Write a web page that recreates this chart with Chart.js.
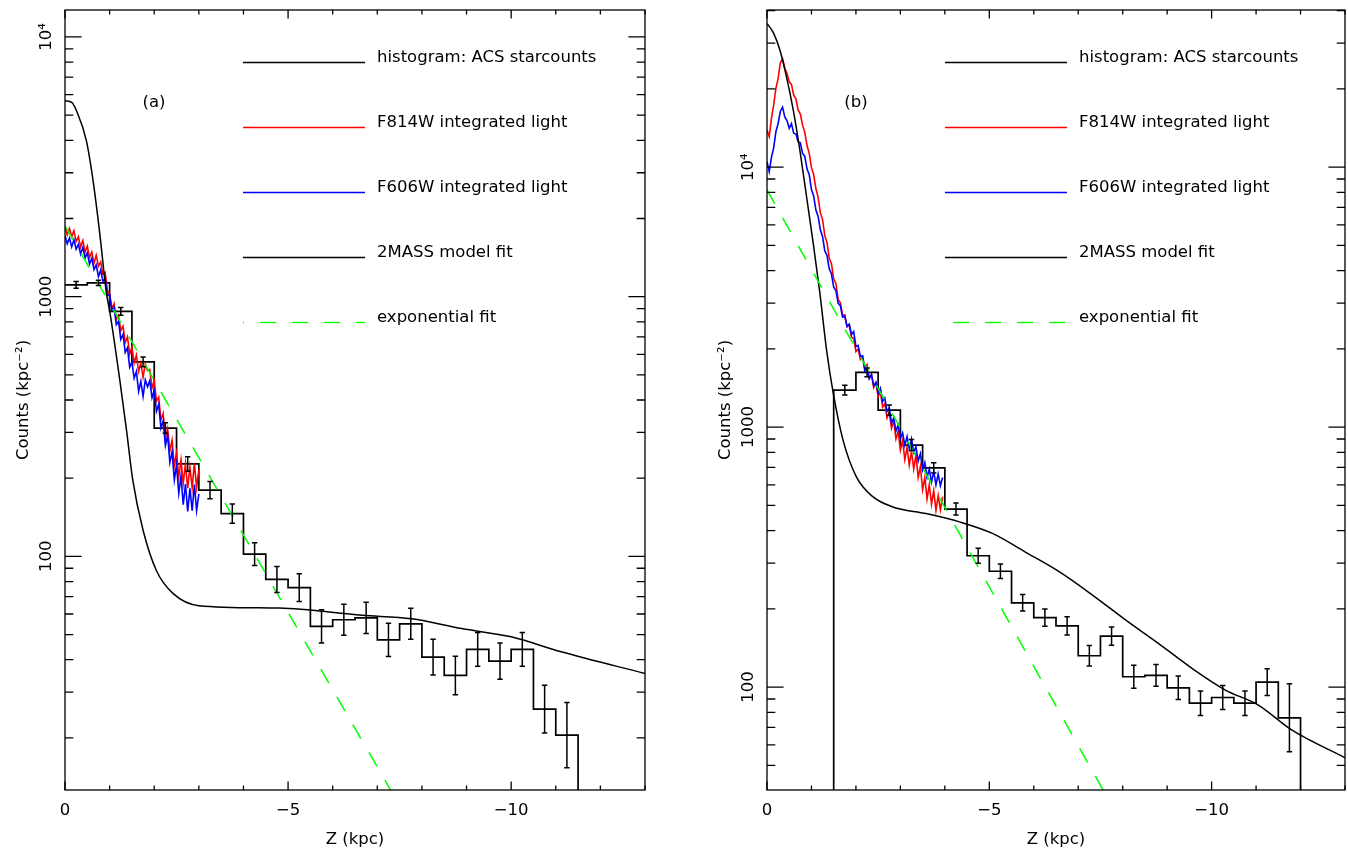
<!DOCTYPE html>
<html lang="en">
<head>
<meta charset="utf-8">
<title>Vertical star-count profiles</title>
<script src="https://cdn.jsdelivr.net/npm/chart.js@4.4.1/dist/chart.umd.min.js"></script>
<style>
  html, body { margin: 0; padding: 0; background: #ffffff; overflow: hidden; }
  .panel { position: absolute; top: 0; }
  #chartA { left: 0; }
  #chartB { left: 674px; }
</style>
</head>
<body>
<canvas id="chartA" class="panel" width="674" height="850"></canvas>
<canvas id="chartB" class="panel" width="674" height="850"></canvas>
<script>
// shared axis ticks and labels
const xTicks = [0, -1, -2, -3, -4, -5, -6, -7, -8, -9, -10, -11, -12, -13];
const xTickLabels = { '0': '0', '-5': '\u22125', '-10': '\u221210' };
const yTickLabels = { '100': '100', '1000': '1000', '10000': '10\u2074' };
const legendText = ['histogram: ACS starcounts', 'F814W integrated light', 'F606W integrated light', '2MASS model fit', 'exponential fit'];

// ---- panel (a) ----
const yRangeA = [12.6, 12700];
const yTicksA = [20, 30, 40, 50, 60, 70, 80, 90, 100, 200, 300, 400, 500, 600, 700, 800, 900,
  1000, 2000, 3000, 4000, 5000, 6000, 7000, 8000, 9000, 10000];
const histEdgesA = [0, -0.5, -1, -1.5, -2, -2.5, -3, -3.5, -4, -4.5, -5, -5.5, -6, -6.5, -7, -7.5,
  -8, -8.5, -9, -9.5, -10, -10.5, -11, -11.5];
const histCountsA = [1110, 1130, 877, 561, 312, 227, 180, 146, 102, 81.5, 75.8, 53.8, 57, 58, 47.7,
  55, 40.9, 34.8, 43.8, 39.5, 43.8, 25.8, 20.5];
const histErrA = [0.013, 0.010, 0.015, 0.019, 0.020, 0.028, 0.033, 0.037, 0.044, 0.050, 0.053, 0.064,
  0.060, 0.060, 0.064, 0.060, 0.069, 0.074, 0.065, 0.070, 0.065, 0.092, 0.126];
const f814A = [1850, 1730, 1830, 1700, 1795, 1630, 1700, 1555, 1645, 1485, 1565, 1415, 1485, 1345,
  1445, 1310, 1360, 1220, 1240, 1055, 1025, 900, 940, 815, 845, 740, 770, 665, 700, 600, 640, 555,
  595, 515, 555, 490, 550, 520, 525, 445, 475, 395, 410, 335, 355, 285, 310, 255, 280, 224, 250,
  202, 235, 191, 227, 183, 220, 184, 228, 184, 216];
const f606A = [1720, 1600, 1680, 1555, 1655, 1525, 1590, 1460, 1550, 1410, 1475, 1335, 1405, 1270,
  1325, 1195, 1265, 1145, 1175, 1010, 1020, 885, 910, 780, 805, 685, 715, 610, 635, 535, 560, 485,
  515, 432, 472, 413, 478, 450, 475, 408, 435, 362, 385, 312, 332, 267, 292, 230, 253, 197, 225,
  175, 204, 158, 190, 149, 183, 150, 189, 150, 174];
const modelZA = [0, -0.15, -0.26, -0.48, -0.63, -0.78, -0.93, -1.0, -1.23, -1.38, -1.52, -1.75, -2.05,
  -2.42, -3.0, -4.8, -6.66, -7.77, -8.89, -10.0, -11.12, -13];
const modelA = [5680, 5600, 5190, 3980, 2790, 1746, 1027, 883, 475, 305, 196, 126, 88, 72, 64.6,
  63.2, 59.3, 57.5, 52.7, 49, 42.9, 35.4];
const expZA = [0, -7.4];
const expA = [1875, 11.75];

// ---- panel (b) ----
const yRangeB = [40.2, 40200];
const yTicksB = [50, 60, 70, 80, 90, 100, 200, 300, 400, 500, 600, 700, 800, 900, 1000, 2000, 3000,
  4000, 5000, 6000, 7000, 8000, 9000, 10000, 20000, 30000, 40000];
const histEdgesB = [-1.5, -2, -2.5, -3, -3.5, -4, -4.5, -5, -5.5, -6, -6.5, -7, -7.5, -8, -8.5, -9,
  -9.5, -10, -10.5, -11, -11.5, -12];
const histCountsB = [1387, 1623, 1162, 853, 697, 484, 320, 279, 211, 185, 172, 132, 157, 109.6, 111,
  99.4, 86.7, 91.2, 86.7, 104.5, 76.2];
const histErrB = [0.019, 0.017, 0.020, 0.021, 0.020, 0.023, 0.029, 0.028, 0.032, 0.033, 0.035, 0.039,
  0.035, 0.044, 0.042, 0.045, 0.047, 0.046, 0.047, 0.051, 0.131];
const f814B = [13900, 13100, 15400, 17300, 20100, 21900, 25200, 26100, 24000, 22900, 21300, 20800,
  18900, 18300, 16600, 16000, 14500, 13600, 12100, 11300, 9950, 9350, 8250, 7650, 6680, 6280, 5450,
  5120, 4460, 4250, 3710, 3570, 3090, 3010, 2690, 2700, 2430, 2470, 2220, 2190, 1950, 2000, 1820,
  1860, 1680, 1740, 1540, 1590, 1420, 1480, 1310, 1370, 1195, 1230, 1085, 1140, 990, 1060, 900, 965,
  815, 885, 750, 835, 715, 805, 690, 780, 640, 705, 575, 640, 530, 600, 505, 570, 478, 545, 480, 540];
const f606B = [10500, 9600, 10900, 11850, 13700, 14700, 16400, 17000, 15600, 15100, 14100, 14700,
  13500, 13400, 12500, 12400, 11300, 11000, 9850, 9350, 8200, 7730, 6840, 6460, 5740, 5400, 4760,
  4570, 4060, 3880, 3450, 3350, 2990, 2930, 2650, 2670, 2440, 2490, 2270, 2330, 2040, 2060, 1870,
  1880, 1645, 1680, 1535, 1595, 1440, 1485, 1350, 1410, 1255, 1295, 1150, 1185, 1035, 1085, 965,
  1020, 905, 950, 850, 920, 825, 900, 800, 840, 740, 790, 685, 730, 640, 690, 615, 675, 600, 660,
  595, 640];
const modelZB = [0, -0.15, -0.29, -0.44, -0.59, -0.74, -0.89, -1.04, -1.19, -1.34, -1.49, -1.71, -2.01,
  -2.38, -2.83, -3.58, -4.33, -5.07, -5.82, -6.57, -7.32, -8.07, -8.81, -9.56, -10.31, -11.05, -11.8, -13];
const modelB = [35700, 32700, 28200, 22200, 16600, 11600, 7690, 5090, 3270, 1977, 1350, 891, 644, 540,
  493, 465, 432, 390, 330, 278, 226, 181, 147, 118, 97.4, 85.3, 68.4, 53.5];
const expZB = [0, -7.7];
const expB = [8170, 36.4];

const LIGHT_STEP = 0.05;   // kpc between integrated-light samples
const FLOOR = 1;           // histogram ends drop below the plotted range
const FONT = { family: '"DejaVu Sans", sans-serif', size: 16.5 };
const FONT_CSS = '16.5px "DejaVu Sans", sans-serif';

function pairs(zs, vs) {
  return vs.map((v, i) => ({ x: zs[i], y: v }));
}

function lightPoints(vs) {
  return vs.map((v, i) => ({ x: -i * LIGHT_STEP, y: v }));
}

// outline of a histogram: flat top across each bin, vertical drops between bins
function histogramPoints(edges, counts, openStart) {
  const pts = [];
  if (openStart) pts.push({ x: edges[0], y: FLOOR });
  counts.forEach((c, i) => {
    pts.push({ x: edges[i], y: c }, { x: edges[i + 1], y: c });
  });
  pts.push({ x: edges[edges.length - 1], y: FLOOR });
  return pts;
}

function binCentres(edges) {
  return edges.slice(1).map((e, i) => (e + edges[i]) / 2);
}

// error bars on the histogram, symmetric in log space
const errorBars = {
  id: 'errorBars',
  afterDatasetsDraw(chart) {
    const { ctx, chartArea: a, scales: { x, y } } = chart;
    ctx.save();
    ctx.beginPath();
    ctx.rect(a.left, a.top, a.right - a.left, a.bottom - a.top);
    ctx.clip();
    ctx.strokeStyle = '#000';
    ctx.lineWidth = 1.5;
    ctx.beginPath();
    chart.data.datasets.forEach(ds => {
      if (!ds.errDex) return;
      ds.errDex.forEach((e, i) => {
        const c = ds.counts[i];
        const px = x.getPixelForValue(ds.centres[i]);
        const top = y.getPixelForValue(c * Math.pow(10, e));
        const bot = y.getPixelForValue(c / Math.pow(10, e));
        ctx.moveTo(px, top); ctx.lineTo(px, bot);
        ctx.moveTo(px - 2.7, top); ctx.lineTo(px + 2.7, top);
        ctx.moveTo(px - 2.7, bot); ctx.lineTo(px + 2.7, bot);
      });
    });
    ctx.stroke();
    ctx.restore();
  }
};

// box around the plot with inward ticks on all four sides
const frame = {
  id: 'frame',
  afterDraw(chart) {
    const { ctx, chartArea: a, scales: { x, y } } = chart;
    ctx.save();
    ctx.strokeStyle = '#000';
    ctx.lineWidth = 1.3;
    ctx.strokeRect(a.left, a.top, a.right - a.left, a.bottom - a.top);
    ctx.beginPath();
    x.ticks.forEach(t => {
      const px = x.getPixelForValue(t.value);
      const len = xTickLabels[t.value] ? 8.5 : 4.5;
      ctx.moveTo(px, a.bottom); ctx.lineTo(px, a.bottom - len);
      ctx.moveTo(px, a.top); ctx.lineTo(px, a.top + len);
    });
    y.ticks.forEach(t => {
      const py = y.getPixelForValue(t.value);
      const len = yTickLabels[t.value] ? 16.6 : 8.3;
      ctx.moveTo(a.left, py); ctx.lineTo(a.left + len, py);
      ctx.moveTo(a.right, py); ctx.lineTo(a.right - len, py);
    });
    ctx.stroke();
    ctx.restore();
  }
};

// key in the upper right of each panel and the panel tag
const panelLegend = {
  id: 'panelLegend',
  afterDraw(chart, args, opts) {
    const { ctx, chartArea: a } = chart;
    ctx.save();
    ctx.font = FONT_CSS;
    ctx.fillStyle = '#000';
    ctx.textBaseline = 'alphabetic';
    chart.data.datasets.forEach((ds, i) => {
      const y = a.top + 52.5 + 65 * i;
      ctx.strokeStyle = ds.borderColor;
      ctx.lineWidth = 1.3;
      ctx.setLineDash(ds.borderDash || []);
      ctx.lineDashOffset = opts.dashOffset;
      ctx.beginPath();
      ctx.moveTo(a.left + 178, y);
      ctx.lineTo(a.left + 300, y);
      ctx.stroke();
      ctx.fillText(ds.label, a.left + 312, y - 1);
    });
    ctx.setLineDash([]);
    ctx.textAlign = 'center';
    ctx.textBaseline = 'middle';
    ctx.fillText(opts.tag, a.left + 89, a.top + 93);
    ctx.restore();
  }
};

function drawPanel(id, p) {
  const centres = binCentres(p.edges);
  return new Chart(document.getElementById(id), {
    type: 'line',
    data: {
      datasets: [
        {
          label: legendText[0], data: histogramPoints(p.edges, p.counts, p.openStart),
          borderColor: '#000000', borderWidth: 1.7, order: 5,
          errDex: p.err, counts: p.counts, centres: centres
        },
        { label: legendText[1], data: lightPoints(p.f814), borderColor: '#ff0000', borderWidth: 1.6, order: 4 },
        { label: legendText[2], data: lightPoints(p.f606), borderColor: '#0000ff', borderWidth: 1.6, order: 3 },
        {
          label: legendText[3], data: pairs(p.modelZ, p.model), borderColor: '#000000', borderWidth: 1.5,
          cubicInterpolationMode: 'monotone', order: 2
        },
        {
          label: legendText[4], data: pairs(p.expZ, p.exp), borderColor: '#00ff00', borderWidth: 1.5,
          borderDash: [16, 16], order: 1
        }
      ]
    },
    options: {
      responsive: false,
      animation: false,
      events: [],
      layout: { padding: { left: p.padLeft, right: p.padRight, top: 10, bottom: 0 } },
      elements: { point: { radius: 0 }, line: { tension: 0 } },
      plugins: {
        legend: { display: false },
        tooltip: { enabled: false },
        panelLegend: { tag: p.tag, dashOffset: p.dashOffset }
      },
      scales: {
        x: {
          type: 'linear', reverse: true, min: -13, max: 0,
          afterBuildTicks: s => { s.ticks = xTicks.map(v => ({ value: v })); },
          afterFit: s => { s.height = 60; },
          // tick marks come from the frame plugin; tickLength only spaces the labels
          grid: { display: false, drawTicks: true, tickLength: 8 },
          border: { display: false },
          ticks: {
            autoSkip: false, maxRotation: 0, padding: 3, color: '#000', font: FONT,
            callback: v => xTickLabels[v] || ''
          },
          title: { display: true, text: 'Z (kpc)', color: '#000', font: FONT, padding: { top: 0, bottom: 0 } }
        },
        y: {
          type: 'logarithmic', min: p.yRange[0], max: p.yRange[1],
          afterBuildTicks: s => { s.ticks = p.yTicks.map(v => ({ value: v })); },
          afterFit: s => { s.width = 65; },
          grid: { display: false, drawTicks: false },
          border: { display: false },
          ticks: {
            autoSkip: false, minRotation: 90, maxRotation: 90, crossAlign: 'center', padding: -3,
            color: '#000', font: FONT,
            callback: v => yTickLabels[v] || ''
          },
          title: {
            display: true, text: 'Counts (kpc\u207B\u00B2)', color: '#000', font: FONT,
            padding: { top: 14, bottom: 0 }
          }
        }
      }
    },
    plugins: [errorBars, frame, panelLegend]
  });
}

drawPanel('chartA', {
  tag: '(a)', padLeft: 0, padRight: 29, dashOffset: 15, openStart: false,
  yRange: yRangeA, yTicks: yTicksA,
  edges: histEdgesA, counts: histCountsA, err: histErrA,
  f814: f814A, f606: f606A, modelZ: modelZA, model: modelA, expZ: expZA, exp: expA
});

drawPanel('chartB', {
  tag: '(b)', padLeft: 28, padRight: 0, dashOffset: 24, openStart: true,
  yRange: yRangeB, yTicks: yTicksB,
  edges: histEdgesB, counts: histCountsB, err: histErrB,
  f814: f814B, f606: f606B, modelZ: modelZB, model: modelB, expZ: expZB, exp: expB
});
</script>
</body>
</html>
